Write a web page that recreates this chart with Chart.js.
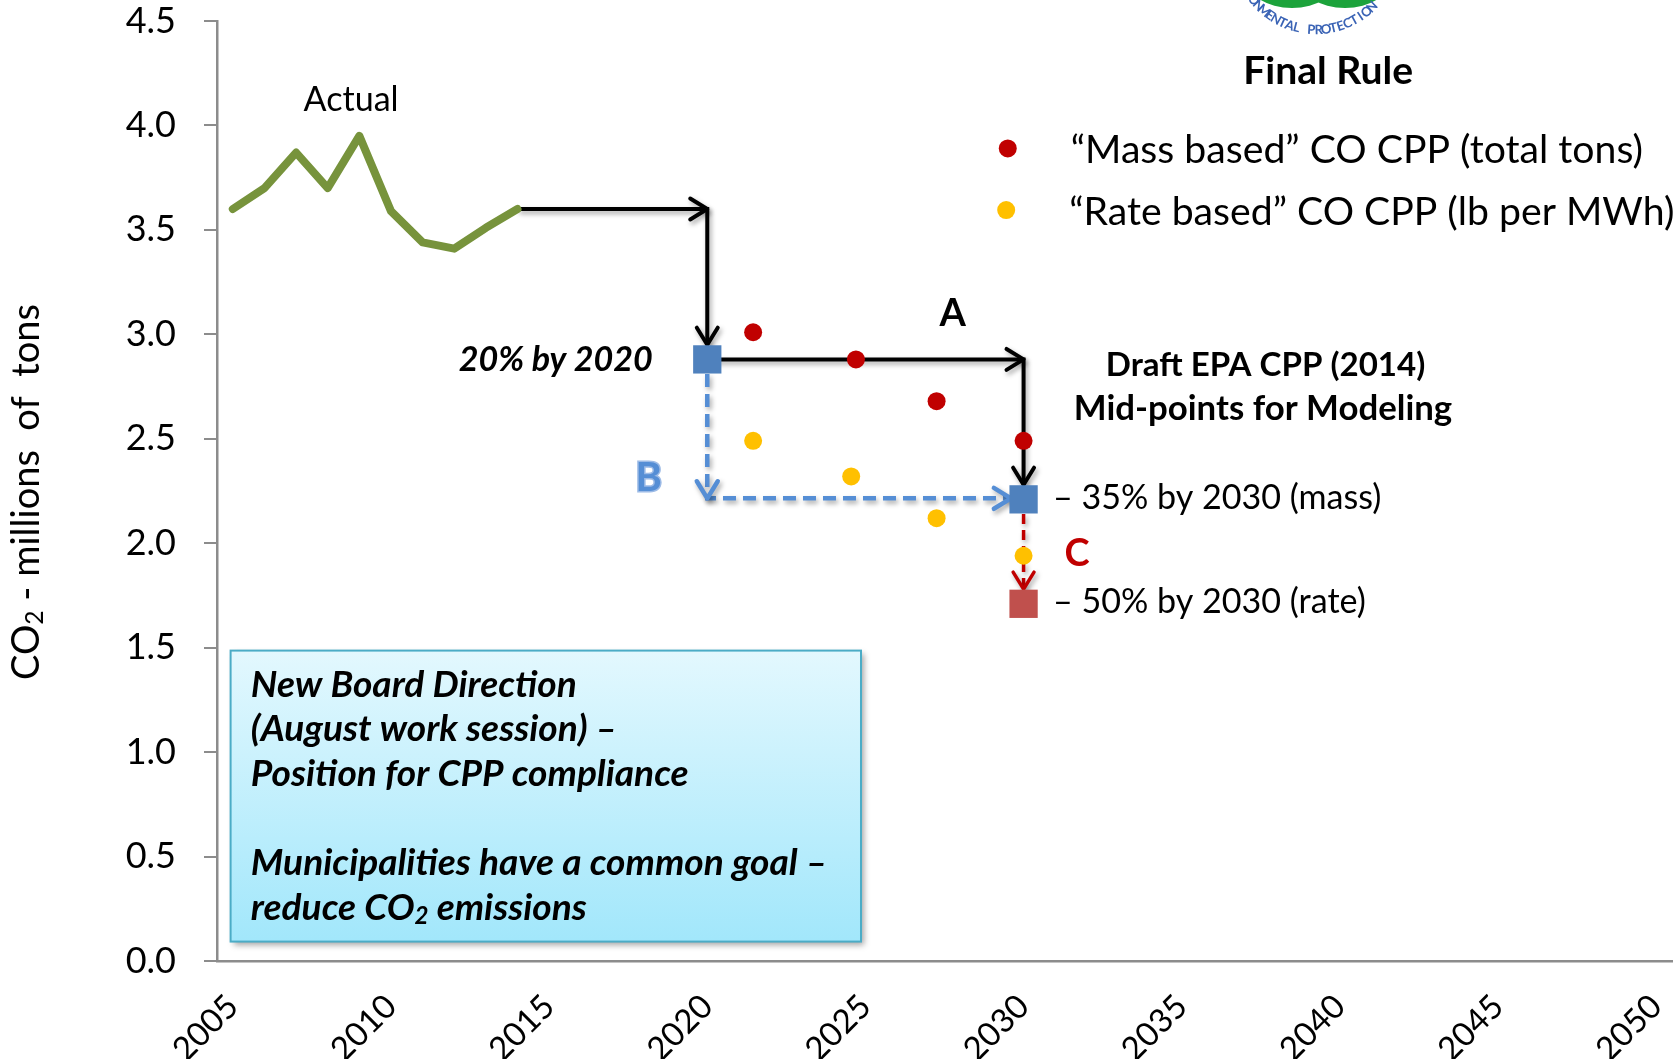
<!DOCTYPE html>
<html>
<head>
<meta charset="utf-8">
<title>CO2 CPP targets</title>
<script src="https://cdn.jsdelivr.net/npm/chart.js@4.4.1/dist/chart.umd.min.js"></script>
<style>
html, body { margin: 0; padding: 0; background: #fff; }
#wrap { position: relative; width: 1678px; height: 1059px; }
</style>
</head>
<body>
<div id="wrap"><canvas id="myChart"></canvas></div>
<script>
/* values */
var tickYears = [2005, 2010, 2015, 2020, 2025, 2030, 2035, 2040, 2045, 2050];
var valueTicks = [0, 0.5, 1, 1.5, 2, 2.5, 3, 3.5, 4, 4.5];

var actualYears = [2005, 2006, 2007, 2008, 2009, 2010, 2011, 2012, 2013, 2014];
var actualValues = [3.60, 3.70, 3.87, 3.70, 3.95, 3.59, 3.44, 3.41, 3.51, 3.60];

var massYears = [2021.45, 2024.7, 2027.25, 2030];
var massValues = [3.01, 2.88, 2.68, 2.49];
var rateYears = [2021.45, 2024.55, 2027.25, 2030];
var rateValues = [2.49, 2.32, 2.12, 1.94];

var draftYears = [2020, 2030];
var draftValues = [2.88, 2.21];
var rateTargetYears = [2030];
var rateTargetValues = [1.71];

/* arrow paths, [year, value] */
var pathTo2020 = [[2014, 3.60], [2020, 3.60], [2020, 2.95]];
var pathA = [[2020, 2.88], [2030, 2.88], [2030, 2.28]];
var pathB = [[2020, 2.81], [2020, 2.215], [2029.6, 2.215]];
var pathC = [[2030, 2.14], [2030, 1.78]];

var FAMILY = 'Lato, "Open Sans", sans-serif';

function toPoints(xs, ys) {
    return xs.map(function(x, i){ return { x: x, y: ys[i] }; });
}
function pathPoints(path) {
    return path.map(function(p){ return { x: p[0], y: p[1] }; });
}
function font(style, size) {
    return style + ' ' + size.toFixed(1) + 'px ' + FAMILY;
}
// font size so that text gets the given width
function fitSize(ctx, text, width, style) {
    ctx.font = font(style, 100);
    return 100 * width / ctx.measureText(text).width;
}
function partsWidth(ctx, parts, style, size) {
    var w = 0;
    parts.forEach(function(p){
        ctx.font = font(style, p[1] ? size * 0.65 : size);
        w += ctx.measureText(p[0]).width;
    });
    return w;
}
function drawParts(ctx, parts, x, y, style, size) {
    var cur = x;
    parts.forEach(function(p){
        ctx.font = font(style, p[1] ? size * 0.65 : size);
        ctx.fillText(p[0], cur, p[1] ? y + size * 0.22 : y);
        cur += ctx.measureText(p[0]).width;
    });
}

/* text notes, placed in data units */
var notes = [
    { text: 'Actual', x: 2008.74, y: 4.123, width: 95, style: 'normal', align: 'center' },
    { text: 'Final Rule', x: 2039.63, y: 4.258, width: 170, style: 'bold', align: 'center' },
    { text: '20% by 2020', x: 2018.28, y: 2.878, width: 194, style: 'italic bold', align: 'right' },
    { text: 'A', x: 2027.76, y: 3.10, size: 38, style: 'bold', align: 'center' },
    { text: 'B', x: 2018.15, y: 2.31, size: 40, style: 'bold', align: 'center', color: '#558ed5', glow: '#9dbbe6' },
    { text: 'C', x: 2031.69, y: 1.95, size: 38, style: 'bold', align: 'center', color: '#c00000' },
    { text: 'Draft EPA CPP (2014)', x: 2037.65, y: 2.854, width: 320, style: 'bold', align: 'center' },
    { text: 'Mid-points for Modeling', x: 2037.57, y: 2.644, width: 379, style: 'bold', align: 'center' },
    { text: '\u2013 35% by 2030 (mass)', x: 2030.93, y: 2.217, width: 329, style: 'normal', align: 'left' },
    { text: '\u2013 50% by 2030 (rate)', x: 2030.93, y: 1.719, width: 313, style: 'normal', align: 'left' }
];

var boxLines = [
    [['New Board Direction', false]],
    [['(August work session) \u2013', false]],
    [['Position for CPP compliance', false]],
    [],
    [['Municipalities have a common goal \u2013', false]],
    [['reduce CO', false], ['2', true], [' emissions', false]]
];
var yTitleParts = [['CO', false], ['2', true], [' - millions  of  tons', false]];

var ctx = document.getElementById('myChart');
ctx.width = 1678;
ctx.height = 1059;

var arrowShadow = {
    id: 'arrowShadow',
    beforeDatasetDraw: function(chart, args){
        var ds = chart.data.datasets[args.index];
        if (!ds.arrowTips) return;
        var c = chart.ctx;
        c.save();
        c.shadowColor = 'rgba(0,0,0,0.35)';
        c.shadowBlur = 5;
        c.shadowOffsetX = 2;
        c.shadowOffsetY = 3;
    },
    afterDatasetDraw: function(chart, args){
        var ds = chart.data.datasets[args.index];
        if (!ds.arrowTips) return;
        var c = chart.ctx;
        var pts = args.meta.data;
        var L = 20, a = 0.55;
        c.strokeStyle = ds.borderColor;
        c.lineWidth = ds.borderWidth;
        c.setLineDash([]);
        c.lineJoin = 'round';
        c.lineCap = 'round';
        ds.arrowTips.forEach(function(i){
            var p = pts[i], q = pts[i - 1];
            var ang = Math.atan2(p.y - q.y, p.x - q.x);
            c.beginPath();
            c.moveTo(p.x - L * Math.cos(ang - a), p.y - L * Math.sin(ang - a));
            c.lineTo(p.x, p.y);
            c.lineTo(p.x - L * Math.cos(ang + a), p.y - L * Math.sin(ang + a));
            c.stroke();
        });
        c.restore();
    }
};

var infoBox = {
    id: 'infoBox',
    beforeDatasetsDraw: function(chart){
        var c = chart.ctx, xs = chart.scales.x, ys = chart.scales.y;
        var l = xs.getPixelForValue(2004.93), r = xs.getPixelForValue(2024.86);
        var t = ys.getPixelForValue(1.486), b = ys.getPixelForValue(0.093);
        c.save();
        var g = c.createLinearGradient(0, t, 0, b);
        g.addColorStop(0, '#e3f8fe');
        g.addColorStop(1, '#a2e7fb');
        c.shadowColor = 'rgba(0,0,0,0.35)';
        c.shadowBlur = 6;
        c.shadowOffsetX = 3;
        c.shadowOffsetY = 3;
        c.fillStyle = g;
        c.fillRect(l, t, r - l, b - t);
        c.shadowColor = 'transparent';
        c.strokeStyle = '#4bacc6';
        c.lineWidth = 2;
        c.strokeRect(l, t, r - l, b - t);

        var size = fitSize(c, boxLines[4][0][0], 577, 'italic bold');
        var x0 = xs.getPixelForValue(2005.57);
        var y0 = ys.getPixelForValue(1.322);
        c.fillStyle = '#000';
        c.textAlign = 'left';
        c.textBaseline = 'middle';
        boxLines.forEach(function(parts, i){
            drawParts(c, parts, x0, y0 + i * 44.6, 'italic bold', size);
        });
        c.restore();
    }
};

var notesPlugin = {
    id: 'notes',
    afterDraw: function(chart){
        var c = chart.ctx, xs = chart.scales.x, ys = chart.scales.y;
        c.save();
        c.textBaseline = 'middle';
        notes.forEach(function(n){
            var size = n.size || fitSize(c, n.text, n.width, n.style);
            c.font = font(n.style, size);
            c.textAlign = n.align;
            var px = xs.getPixelForValue(n.x), py = ys.getPixelForValue(n.y);
            if (n.glow) {
                c.strokeStyle = n.glow;
                c.lineWidth = 3;
                c.strokeText(n.text, px, py);
            }
            c.fillStyle = n.color || '#000';
            c.fillText(n.text, px, py);
        });

        // legend rows for the two dot series
        var legendSize = 0;
        chart.data.datasets.forEach(function(ds){
            if (!ds.legendAt) return;
            if (!legendSize) legendSize = fitSize(c, ds.label, 573, 'normal');
            var px = xs.getPixelForValue(ds.legendAt[0]), py = ys.getPixelForValue(ds.legendAt[1]);
            c.fillStyle = ds.backgroundColor;
            c.beginPath();
            c.arc(px, py, 9, 0, Math.PI * 2);
            c.fill();
            c.fillStyle = '#000';
            c.textAlign = 'left';
            c.font = font('normal', legendSize);
            c.fillText(ds.label, px + 63, py + 2);
        });

        // y axis title
        var tSize = 38;
        var tw = partsWidth(c, yTitleParts, 'normal', tSize);
        c.translate(27, 492);
        c.rotate(-Math.PI / 2);
        c.fillStyle = '#000';
        c.textAlign = 'left';
        drawParts(c, yTitleParts, -tw / 2, 0, 'normal', tSize);
        c.restore();

        drawLogo(c);
    }
};

// EPA seal, only its lower edge shows at the top of the slide
function drawLogo(c) {
    c.save();
    c.fillStyle = '#1ca33b';
    c.beginPath();
    c.ellipse(1292, -22, 46, 30, 0, 0, Math.PI * 2);
    c.fill();
    c.beginPath();
    c.ellipse(1345, -22, 46, 30, 0, 0, Math.PI * 2);
    c.fill();
    var word = 'ENVIRONMENTAL PROTECTION';
    c.fillStyle = '#3a63b5';
    c.font = 'bold 13px ' + FAMILY;
    c.textAlign = 'center';
    c.textBaseline = 'middle';
    for (var i = 0; i < word.length; i++) {
        var th = (130.6 - (i - 7) * 5.32) * Math.PI / 180;
        c.save();
        c.translate(1316 + 80 * Math.cos(th), -50 + 80 * Math.sin(th));
        c.rotate(th - Math.PI / 2);
        c.fillText(word[i], 0, 0);
        c.restore();
    }
    c.restore();
}

var myChart = new Chart(ctx, {
    type: 'scatter',
    data: {
        datasets: [
            {
                label: 'Draft EPA CPP (2014) mass target',
                data: toPoints(draftYears, draftValues),
                pointStyle: 'rect', pointRadius: 20, borderWidth: 0,
                backgroundColor: '#4f81bd', borderColor: '#4f81bd',
                order: 0
            },
            {
                label: 'Draft EPA CPP (2014) rate target',
                data: toPoints(rateTargetYears, rateTargetValues),
                pointStyle: 'rect', pointRadius: 20, borderWidth: 0,
                backgroundColor: '#c0504d', borderColor: '#c0504d',
                order: 0
            },
            {
                label: '\u201cMass based\u201d CO CPP (total tons)',
                data: toPoints(massYears, massValues),
                pointRadius: 9, borderWidth: 0,
                backgroundColor: '#c00000', borderColor: '#c00000',
                legendAt: [2029.5, 3.89],
                order: 1
            },
            {
                label: '\u201cRate based\u201d CO CPP (lb per MWh)',
                data: toPoints(rateYears, rateValues),
                pointRadius: 9, borderWidth: 0,
                backgroundColor: '#ffc000', borderColor: '#ffc000',
                legendAt: [2029.45, 3.595],
                order: 1
            },
            {
                label: 'Actual',
                data: toPoints(actualYears, actualValues),
                showLine: true, pointRadius: 0,
                borderColor: '#77933c', borderWidth: 8,
                borderJoinStyle: 'round', borderCapStyle: 'round',
                order: 2
            },
            {
                label: 'to 20% by 2020',
                data: pathPoints(pathTo2020),
                showLine: true, pointRadius: 0,
                borderColor: '#000', borderWidth: 4,
                arrowTips: [1, 2], order: 3
            },
            {
                label: 'A',
                data: pathPoints(pathA),
                showLine: true, pointRadius: 0,
                borderColor: '#000', borderWidth: 4,
                arrowTips: [1, 2], order: 3
            },
            {
                label: 'B',
                data: pathPoints(pathB),
                showLine: true, pointRadius: 0,
                borderColor: '#558ed5', borderWidth: 4.5, borderDash: [13, 7],
                arrowTips: [1, 2], order: 3
            },
            {
                label: 'C',
                data: pathPoints(pathC),
                showLine: true, pointRadius: 0,
                borderColor: '#c00000', borderWidth: 3.5, borderDash: [10, 6],
                arrowTips: [1], order: 3
            }
        ]
    },
    plugins: [infoBox, arrowShadow, notesPlugin],
    options: {
        responsive: false,
        animation: false,
        events: [],
        layout: { autoPadding: false, padding: { left: 0, top: 21, right: 6, bottom: 0 } },
        plugins: {
            legend: { display: false },
            tooltip: { enabled: false }
        },
        scales: {
            x: {
                type: 'linear',
                min: 2004.5,
                max: 2050.5,
                afterBuildTicks: function(s){
                    s.ticks = tickYears.map(function(v){ return { value: v }; });
                },
                afterFit: function(s){
                    s.height = 98;
                    s.paddingLeft = 0;
                    s.paddingRight = 0;
                },
                ticks: {
                    autoSkip: false,
                    minRotation: 45,
                    maxRotation: 45,
                    padding: 26,
                    color: '#000',
                    font: { family: FAMILY, size: 33 },
                    callback: function(v){ return String(v); }
                },
                grid: { display: false, drawTicks: false },
                border: { display: true, color: '#8c8c8c', width: 2.5 }
            },
            y: {
                min: 0,
                max: 4.5,
                afterBuildTicks: function(s){
                    s.ticks = valueTicks.map(function(v){ return { value: v }; });
                },
                afterFit: function(s){
                    s.width = 217;
                    s.paddingTop = 0;
                    s.paddingBottom = 0;
                },
                ticks: {
                    padding: 28,
                    color: '#000',
                    font: { family: FAMILY, size: 36 },
                    callback: function(v){ return v.toFixed(1); }
                },
                grid: { drawOnChartArea: false, drawTicks: true, tickLength: 13, color: '#8c8c8c', lineWidth: 2 },
                border: { color: '#8c8c8c', width: 2.5 }
            }
        }
    }
});
</script>
</body>
</html>
